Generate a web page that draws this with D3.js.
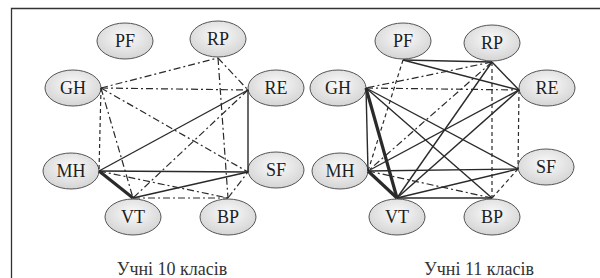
<!DOCTYPE html>
<html lang="uk">
<head>
<meta charset="UTF-8">
<title>Мережі зв'язків</title>
<script src="https://d3js.org/d3.v7.min.js"></script>
<style>
  body { margin: 0; background: #fff; }
  svg { display: block; }
</style>
</head>
<body>
<div id="chart"></div>
<script>
// вузли і підписи
const nodeNames = ["PF", "RP", "GH", "RE", "MH", "SF", "VT", "BP"];
const panelTitles = ["Учні 10 класів", "Учні 11 класів"];

// зв'язки: [від, до, тип]
const links10 = [
  ["GH", "RP", "dashdot"],
  ["GH", "RE", "dashdot"],
  ["GH", "SF", "dashdot"],
  ["GH", "MH", "dashed"],
  ["GH", "VT", "dashdot"],
  ["RP", "RE", "dashdot"],
  ["RP", "BP", "dashdot"],
  ["RE", "MH", "solid"],
  ["RE", "SF", "solid"],
  ["RE", "VT", "dashdot"],
  ["MH", "SF", "solid"],
  ["MH", "VT", "thick"],
  ["MH", "BP", "dashdot"],
  ["VT", "SF", "solid"],
  ["VT", "BP", "dashdot"],
  ["BP", "SF", "dashdot"]
];
const links11 = [
  ["PF", "RP", "solid"],
  ["PF", "RE", "solid"],
  ["PF", "MH", "dashed"],
  ["RP", "GH", "dashdot"],
  ["RP", "RE", "solid"],
  ["RP", "VT", "solid"],
  ["RP", "MH", "dashdot"],
  ["RP", "BP", "dashed"],
  ["GH", "RE", "dashdot"],
  ["GH", "MH", "solid"],
  ["GH", "VT", "thick"],
  ["GH", "SF", "solid"],
  ["GH", "BP", "solid"],
  ["RE", "MH", "solid"],
  ["RE", "VT", "solid"],
  ["RE", "SF", "dashed"],
  ["MH", "SF", "solid"],
  ["MH", "VT", "thick"],
  ["MH", "BP", "dashdot"],
  ["VT", "SF", "solid"],
  ["VT", "BP", "solid"],
  ["BP", "SF", "dashed"]
];

const width = 600, height = 278;
const rx = 28, ry = 18;

const svg = d3.select("#chart").append("svg")
  .attr("width", width)
  .attr("height", height);

const defs = svg.append("defs");
const grad = defs.append("radialGradient")
  .attr("id", "nodeFill")
  .attr("cx", "50%").attr("cy", "40%").attr("r", "60%");
grad.append("stop").attr("offset", "0%").attr("stop-color", "#fbfbfb");
grad.append("stop").attr("offset", "100%").attr("stop-color", "#d4d4d4");

// рамка (лише верх і ліво видно)
svg.append("path")
  .attr("d", "M11.5,278V8.5H600")
  .attr("fill", "none")
  .attr("stroke", "#333")
  .attr("stroke-width", 1.3);

// розміщення вузлів у кожній панелі
const layouts = [
  {
    centers: [[125, 41], [218, 39], [73, 88], [276, 88], [71, 171], [276, 170], [133, 217], [228, 217]],
    titleX: 172
  },
  {
    centers: [[403, 41], [492, 43], [338, 88], [547, 88], [340, 171], [546, 167], [397, 217], [492, 217]],
    titleX: 479
  }
];
// з якого боку еліпса виходять лінії
const side = d3.scaleOrdinal()
  .domain(nodeNames)
  .range(["b", "b", "r", "l", "r", "l", "t", "t"]);

const lineStyle = {
  solid:   { w: 1.4, dash: null },
  thick:   { w: 3.2, dash: null },
  dashdot: { w: 1.2, dash: "7,3,2,3" },
  dashed:  { w: 1.2, dash: "4,3" }
};

function drawPanel(links, layout, title) {
  const pos = d3.scaleOrdinal().domain(nodeNames).range(layout.centers);
  function anchor(n) {
    const [cx, cy] = pos(n);
    const s = side(n);
    if (s === "r") return [cx + rx, cy];
    if (s === "l") return [cx - rx, cy + 2];
    if (s === "t") return [cx, cy - ry - 1];
    return [cx, cy + ry + 1];
  }

  const g = svg.append("g");

  const nodes = g.selectAll("g.node")
    .data(nodeNames)
    .join("g")
      .attr("class", "node")
      .attr("transform", d => `translate(${pos(d)[0]},${pos(d)[1]})`);
  nodes.append("ellipse")
    .attr("rx", rx)
    .attr("ry", ry)
    .attr("fill", "url(#nodeFill)")
    .attr("stroke", "#555")
    .attr("stroke-width", 1);
  nodes.append("text")
    .attr("text-anchor", "middle")
    .attr("y", 6)
    .attr("font-family", "'Liberation Serif', 'Times New Roman', serif")
    .attr("font-size", 18)
    .attr("fill", "#1e1e1e")
    .text(d => d);

  g.selectAll("line.link")
    .data(links)
    .join("line")
      .attr("class", "link")
      .attr("x1", d => anchor(d[0])[0])
      .attr("y1", d => anchor(d[0])[1])
      .attr("x2", d => anchor(d[1])[0])
      .attr("y2", d => anchor(d[1])[1])
      .attr("stroke", "#2a2a2a")
      .attr("stroke-width", d => lineStyle[d[2]].w)
      .attr("stroke-dasharray", d => lineStyle[d[2]].dash);

  g.append("text")
    .attr("x", layout.titleX)
    .attr("y", 275)
    .attr("text-anchor", "middle")
    .attr("font-family", "'Liberation Serif', 'Times New Roman', serif")
    .attr("font-size", 18)
    .attr("fill", "#333")
    .text(title);
}

drawPanel(links10, layouts[0], panelTitles[0]);
drawPanel(links11, layouts[1], panelTitles[1]);
</script>
</body>
</html>
